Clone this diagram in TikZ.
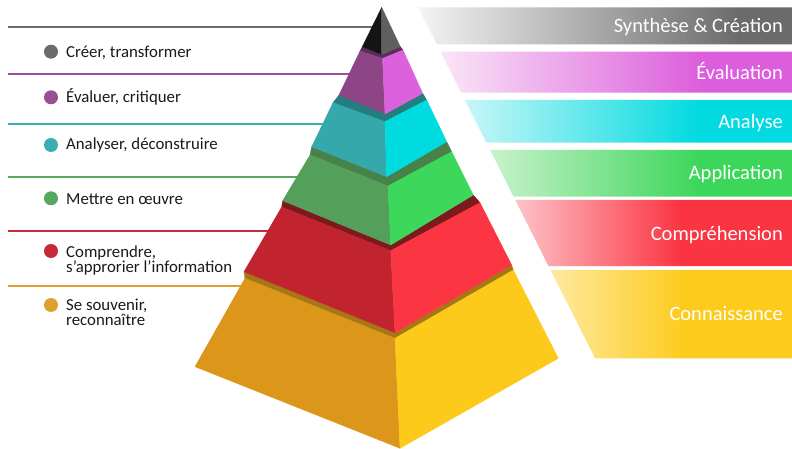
\documentclass[tikz,border=0pt]{standalone}
\usepackage{fontspec}
\setmainfont{Carlito}
% pyramid colours
\definecolor{yL}{HTML}{DC961A}\definecolor{yR}{HTML}{FDC91A}\definecolor{yB}{HTML}{A67815}
\definecolor{rL}{HTML}{C1232F}\definecolor{rR}{HTML}{FB3541}\definecolor{rB}{HTML}{7D1A1E}
\definecolor{gL}{HTML}{54A05B}\definecolor{gR}{HTML}{3CD75B}\definecolor{gB}{HTML}{46824A}
\definecolor{cL}{HTML}{35A8AC}\definecolor{cR}{HTML}{00DBE0}\definecolor{cB}{HTML}{237E80}
\definecolor{pL}{HTML}{8D4585}\definecolor{pR}{HTML}{DC61DC}\definecolor{pB}{HTML}{5E2B5B}
\definecolor{kL}{HTML}{141414}\definecolor{kR}{HTML}{5F5F5F}
% band colours
\definecolor{synL}{HTML}{F4F4F4}\definecolor{synR}{HTML}{6B6B6B}
\definecolor{evaL}{HTML}{FAE6F7}\definecolor{evaR}{HTML}{DC5EDC}
\definecolor{anaL}{HTML}{C8F6F7}\definecolor{anaR}{HTML}{00DAE0}
\definecolor{appL}{HTML}{C8F2CC}\definecolor{appR}{HTML}{3BD65A}
\definecolor{comL}{HTML}{FDC3C8}\definecolor{comR}{HTML}{FB3442}
\definecolor{conL}{HTML}{FEE9A0}\definecolor{conR}{HTML}{FDCB1C}
% line / bullet colours
\definecolor{lnK}{HTML}{6B6B6B}\definecolor{lnP}{HTML}{9A4E95}\definecolor{lnC}{HTML}{3AAEB0}
\definecolor{lnG}{HTML}{55A85D}\definecolor{lnR}{HTML}{C8283A}\definecolor{lnY}{HTML}{E0A030}
\definecolor{txt}{HTML}{1A1A1A}
\pgfdeclarehorizontalshading{shSyn}{100bp}{color(0bp)=(synL); color(25bp)=(synL); color(68bp)=(synR); color(100bp)=(synR)}
\pgfdeclarehorizontalshading{shEva}{100bp}{color(0bp)=(evaL); color(25bp)=(evaL); color(62bp)=(evaR); color(100bp)=(evaR)}
\pgfdeclarehorizontalshading{shAna}{100bp}{color(0bp)=(anaL); color(25bp)=(anaL); color(61bp)=(anaR); color(100bp)=(anaR)}
\pgfdeclarehorizontalshading{shApp}{100bp}{color(0bp)=(appL); color(25bp)=(appL); color(60bp)=(appR); color(100bp)=(appR)}
\pgfdeclarehorizontalshading{shCom}{100bp}{color(0bp)=(comL); color(25bp)=(comL); color(55bp)=(comR); color(100bp)=(comR)}
\pgfdeclarehorizontalshading{shCon}{100bp}{color(0bp)=(conL); color(25bp)=(conL); color(53bp)=(conR); color(100bp)=(conR)}
\newcommand{\twolines}[2]{\vtop{\hbox{#1}\hbox{#2}}}
\tikzset{
  face/.style={fill=#1, draw=#1, line width=0.3pt, line join=round},
  lbl/.style={anchor=base west, inner sep=0pt, text=txt, font=\fontsize{16.8}{15.2}\selectfont},
  rlbl/.style={anchor=base east, inner sep=0pt, text=white, font=\fontsize{20.5}{24}\selectfont},
  bulletdot/.style={circle, inner sep=0pt, minimum size=14pt, fill=#1},
  hline/.style={draw=#1, line width=1.6pt},
}
\begin{document}
\begin{tikzpicture}[x=1pt,y=-1pt]
\fill[white] (0,0) rectangle (792,449);
\useasboundingbox (0,0) rectangle (792,449);

% ---- right bands
\shade[shading=shSyn] (418.2,7.3) -- (792,7.3) -- (792,44.3) -- (436.8,44.3) -- cycle;
\shade[shading=shEva] (440.5,51.7) -- (792,51.7) -- (792,92.7) -- (461.2,92.7) -- cycle;
\shade[shading=shAna] (464.9,100) -- (792,100) -- (792,142.7) -- (486.4,142.7) -- cycle;
\shade[shading=shApp] (490.1,150) -- (792,150) -- (792,196.7) -- (513.6,196.7) -- cycle;
\shade[shading=shCom] (515.3,200) -- (792,200) -- (792,266) -- (548.5,266) -- cycle;
\shade[shading=shCon] (550.6,270) -- (792,270) -- (792,358.3) -- (595.1,358.3) -- cycle;

\node[rlbl] (r1) at (783,32.4) {Synthèse \& Création};
\node[rlbl] (r2) at (783,79.2) {Évaluation};
\node[rlbl] (r3) at (783,128.2) {Analyse};
\node[rlbl] (r4) at (783,180) {Application};
\node[rlbl] (r5) at (783,240.5) {Compréhension};
\node[rlbl] (r6) at (783,320.5) {Connaissance};

% ---- left lines
\coordinate (a1) at (8,27.3);   \coordinate (b1) at (375,27.3);
\coordinate (a2) at (8,74.3);   \coordinate (b2) at (353,74.3);
\coordinate (a3) at (8,124);    \coordinate (b3) at (326,124);
\coordinate (a4) at (8,177.3);  \coordinate (b4) at (300,177.3);
\coordinate (a5) at (8,230.7);  \coordinate (b5) at (271,230.7);
\coordinate (a6) at (8,285.7);  \coordinate (b6) at (244,285.7);
\draw[hline=lnK] (a1) -- (b1);
\draw[hline=lnP] (a2) -- (b2);
\draw[hline=lnC] (a3) -- (b3);
\draw[hline=lnG] (a4) -- (b4);
\draw[hline=lnR] (a5) -- (b5);
\draw[hline=lnY] (a6) -- (b6);

% ---- bullets and labels
\node[bulletdot=lnK] (d1) at (51,51.7) {};
\node[bulletdot=lnP] (d2) at (51,97.3) {};
\node[bulletdot=lnC] (d3) at (51,145) {};
\node[bulletdot=lnG] (d4) at (51,198.3) {};
\node[bulletdot=lnR] (d5) at (51,251) {};
\node[bulletdot=lnY] (d6) at (51,305) {};
\node[lbl] (t1) at (66,57.3) {Créer, transformer};
\node[lbl] (t2) at (66,102.7) {Évaluer, critiquer};
\node[lbl] (t3) at (66,149.3) {Analyser, déconstruire};
\node[lbl] (t4) at (66,204.3) {Mettre en œuvre};
\node[lbl] (t5) at (66,257) {\twolines{Comprendre,}{s’approrier l’information}};
\node[lbl] (t6) at (66,310.5) {\twolines{Se souvenir,}{reconnaître}};

% ---- pyramid: yellow
\fill[face=yB] (244,271.7) -- (395,332.7) -- (511.7,265) -- (513.3,270) -- (395,338.3) -- (245,278.3) -- cycle;
\fill[face=yL] (245,278.3) -- (395,338.3) -- (400,448.3) -- (195,366.7) -- cycle;
\fill[face=yR] (395,338.3) -- (513.3,270) -- (558.3,358.3) -- (400,448.3) -- cycle;
% red
\fill[face=rB] (282.7,200.7) -- (390.7,245) -- (473.3,195) -- (480,202.7) -- (390.7,250.7) -- (281.7,207) -- cycle;
\fill[face=rL] (281.7,207) -- (390.7,250.7) -- (395,332.7) -- (244,271.7) -- cycle;
\fill[face=rR] (390.7,250.7) -- (480,202.7) -- (511.7,265) -- (395,332.7) -- cycle;
% green
\fill[face=gB] (311.7,146.7) -- (386.7,176.7) -- (446.7,141.7) -- (451.7,151.7) -- (388,186) -- (310,155) -- cycle;
\fill[face=gL] (310,155) -- (388,186) -- (390.7,245) -- (282.7,200.7) -- cycle;
\fill[face=gR] (388,186) -- (451.7,151.7) -- (473.3,195) -- (390.7,245) -- cycle;
% cyan
\fill[face=cB] (339,95) -- (385,114) -- (422.7,93.3) -- (426.7,100) -- (385,121.7) -- (333,102.7) -- cycle;
\fill[face=cL] (333,102.7) -- (385,121.7) -- (386.7,176.7) -- (311.7,146.7) -- cycle;
\fill[face=cR] (385,121.7) -- (426.7,100) -- (446.7,141.7) -- (386.7,176.7) -- cycle;
% purple
\fill[face=pB] (362.3,46.7) -- (381.7,54.5) -- (400.3,46.7) -- (403,50) -- (382.5,58.5) -- (360,51) -- cycle;
\fill[face=pL] (360,51) -- (382.5,58.5) -- (385,114) -- (339,95) -- cycle;
\fill[face=pR] (382.5,58.5) -- (403,50) -- (422.7,93.3) -- (385,114) -- cycle;
% black apex
\fill[face=kL] (381.7,7.3) -- (381.7,54.5) -- (362.3,46.7) -- cycle;
\fill[face=kR] (381.7,7.3) -- (400.3,46.7) -- (381.7,54.5) -- cycle;
\end{tikzpicture}
\end{document}
